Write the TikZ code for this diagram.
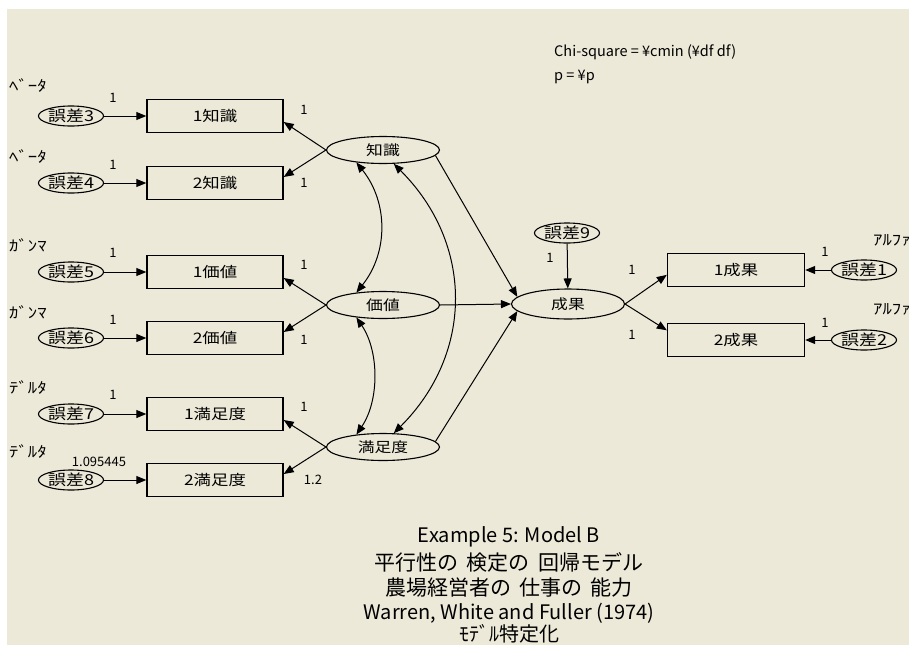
\documentclass[tikz,border=0pt]{standalone}
\usepackage{fontspec}
\setmainfont{Noto Sans CJK JP}
\newfontfamily\widefont[FakeStretch=1.2]{Noto Sans CJK JP}
\newfontfamily\hwfont[FakeStretch=1.25]{Noto Sans CJK JP}
\usetikzlibrary{arrows.meta,shapes.geometric,calc}
\definecolor{bg}{RGB}{236,233,216}
\begin{document}
\begin{tikzpicture}[x=1pt,y=-1pt,
  obs/.style={draw=black, line width=1.4pt, fill=bg, minimum width=136pt, minimum height=33pt, inner sep=0pt, font=\widefont\fontsize{14.5}{14.5}\selectfont},
  lat/.style={draw, ellipse, line width=1.1pt, fill=bg, minimum width=113pt, minimum height=27pt, inner sep=0pt, font=\widefont\fontsize{14}{14}\selectfont},
  err/.style={draw, ellipse, line width=1.1pt, fill=bg, minimum width=57pt, minimum height=20pt, inner sep=0pt, font=\widefont\fontsize{15}{15}\selectfont},
  lbl/.style={font=\fontsize{13}{13}\selectfont, inner sep=0pt},
  grk/.style={font=\hwfont\fontsize{15}{15}\selectfont, inner sep=0pt, anchor=west},
  ttl/.style={font=\fontsize{20}{20}\selectfont, inner sep=0pt},
  jttl/.style={font=\fontsize{21}{21}\selectfont, inner sep=0pt},
  chi/.style={font=\fontsize{14.5}{14.5}\selectfont, inner sep=0pt, anchor=west},
  arr/.style={-{Triangle[length=10pt,width=8pt]}, line width=1pt},
  cov/.style={{Triangle[length=10pt,width=8pt]}-{Triangle[length=10pt,width=8pt]}, line width=1pt},
]
\fill[white] (0,0) rectangle (909,645);
\fill[bg] (7,9) rectangle (909,645);
\useasboundingbox (0,0) rectangle (909,645);

% left error terms and indicators
\node[err] (e3) at (71,116) {誤差3};
\node[err] (e4) at (71,183) {誤差4};
\node[err] (e5) at (71,272) {誤差5};
\node[err] (e6) at (71,338) {誤差6};
\node[err] (e7) at (71,414) {誤差7};
\node[err] (e8) at (71,480) {誤差8};
\node[obs] (x1) at (215,116) {1知識};
\node[obs] (x2) at (215,183) {2知識};
\node[obs] (x3) at (215,272) {1価値};
\node[obs] (x4) at (215,338) {2価値};
\node[obs] (x5) at (215,414) {1満足度};
\node[obs] (x6) at (215,480) {2満足度};

% latent factors
\node[lat] (f1) at (383,150) {知識};
\node[lat] (f2) at (383,305) {価値};
\node[lat] (f3) at (383,447) {満足度};
\node[lat, minimum height=30pt] (y) at (568,304) {成果};
\node[err] (e9) at (567,233) {誤差9};

% right side
\node[obs, minimum width=137pt] (o1) at (736,270) {1成果};
\node[obs, minimum width=137pt] (o2) at (736,340) {2成果};
\node[err] (e1) at (864,270) {誤差1};
\node[err] (e2) at (864,340) {誤差2};

% error arrows
\foreach \e/\x in {e3/x1,e4/x2,e5/x3,e6/x4,e7/x5,e8/x6} \draw[arr] (\e) -- (\x);
\draw[arr] (e1) -- (o1);
\draw[arr] (e2) -- (o2);
\draw[arr] (e9) -- (y);

% loadings
\draw[arr] (f1.west) -- (x1.-5);
\draw[arr] (f1.west) -- (x2.5);
\draw[arr] (f2.west) -- (x3.-5);
\draw[arr] (f2.west) -- (x4.5);
\draw[arr] (f3.west) -- (x5.-5);
\draw[arr] (f3.west) -- (x6.5);

% structural paths
\draw[arr] (f1.-6) -- (y.172);
\draw[arr] (f2.east) -- (y.west);
\draw[arr] (f3.6) -- (y.188);
\draw[arr] (y.east) -- (o1.184);
\draw[arr] (y.east) -- (o2.172);

% covariances
\draw[cov] (f1.205) .. controls +(32,40) and +(32,-40) .. (f2.155);
\draw[cov] (f2.205) .. controls +(23,34) and +(23,-34) .. (f3.155);
\draw[cov] (f1.308) .. controls +(80,80) and +(80,-80) .. (f3.52);

% parameter labels
\node[grk] (g1) at (9,86) {ﾍﾞｰﾀ};
\node[grk] (g2) at (9,157) {ﾍﾞｰﾀ};
\node[grk] (g3) at (9,245) {ｶﾞﾝﾏ};
\node[grk] (g4) at (9,312) {ｶﾞﾝﾏ};
\node[grk] (g5) at (9,388) {ﾃﾞﾙﾀ};
\node[grk] (g6) at (9,452) {ﾃﾞﾙﾀ};
\node[grk] (g7) at (873,240) {ｱﾙﾌｧ};
\node[grk] (g8) at (873,309) {ｱﾙﾌｧ};

\node[lbl] (l1) at (113,98) {1};
\node[lbl] (l2) at (113,165) {1};
\node[lbl] (l3) at (113,253) {1};
\node[lbl] (l4) at (113,320) {1};
\node[lbl] (l5) at (113,395) {1};
\node[lbl] (l6) at (99,462) {1.095445};
\node[lbl] (m1) at (304,110) {1};
\node[lbl] (m2) at (304,183) {1};
\node[lbl] (m3) at (304,265) {1};
\node[lbl] (m4) at (304,340) {1};
\node[lbl] (m5) at (304,407) {1};
\node[lbl] (m6) at (313,480) {1.2};
\node[lbl] (n1) at (550,258) {1};
\node[lbl] (n2) at (632,270) {1};
\node[lbl] (n3) at (632,335) {1};
\node[lbl] (n4) at (825,252) {1};
\node[lbl] (n5) at (825,323) {1};

% text
\node[chi] (c1) at (554,52) {Chi-square = ¥cmin (¥df df)};
\node[chi] (c2) at (554,77) {p = ¥p};
\node[ttl] (t1) at (509,537) {Example 5: Model B};
\node[jttl] (t2) at (509,562) {平行性の\hspace{0.4em}検定の\hspace{0.4em}回帰モデル};
\node[jttl] (t3) at (509,588) {農場経営者の\hspace{0.4em}仕事の\hspace{0.4em}能力};
\node[ttl] (t4) at (509,613) {Warren, White and Fuller (1974)};
\node[ttl] (t5) at (509,634) {ﾓﾃﾞﾙ特定化};
\end{tikzpicture}
\end{document}
